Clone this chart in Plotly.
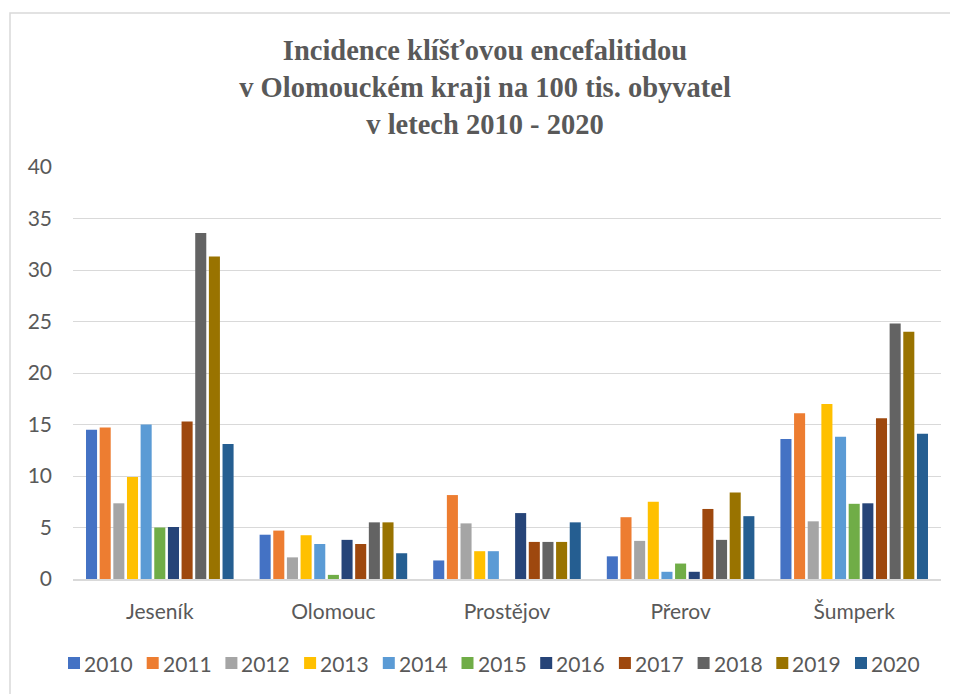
import plotly.graph_objects as go

categories = ["Jeseník", "Olomouc", "Prostějov", "Přerov", "Šumperk"]
years = ["2010", "2011", "2012", "2013", "2014", "2015", "2016", "2017", "2018", "2019", "2020"]

v2010 = [14.5, 4.3, 1.8, 2.2, 13.6]
v2011 = [14.7, 4.7, 8.15, 6.0, 16.1]
v2012 = [7.35, 2.1, 5.4, 3.7, 5.6]
v2013 = [9.9, 4.25, 2.7, 7.5, 17.0]
v2014 = [15.0, 3.4, 2.7, 0.7, 13.8]
v2015 = [5.0, 0.4, 0.0, 1.5, 7.3]
v2016 = [5.05, 3.8, 6.4, 0.7, 7.35]
v2017 = [15.3, 3.4, 3.6, 6.8, 15.6]
v2018 = [33.6, 5.5, 3.6, 3.8, 24.8]
v2019 = [31.3, 5.5, 3.6, 8.4, 24.0]
v2020 = [13.1, 2.5, 5.5, 6.1, 14.1]

series = [v2010, v2011, v2012, v2013, v2014, v2015, v2016, v2017, v2018, v2019, v2020]
colors = ["#4472C4", "#ED7D31", "#A5A5A5", "#FFC000", "#5B9BD5", "#70AD47",
          "#264478", "#9E480E", "#636363", "#997300", "#255E91"]

title_text = ("Incidence klíšťovou encefalitidou<br>"
              "v Olomouckém kraji na 100 tis. obyvatel<br>"
              "v letech 2010 - 2020")

W, H = 958, 694
OFF = 8  # page body offset
L, T = 73 - OFF, 167 - OFF
R = W - (941 - OFF)
B = H - (579 - OFF)

fig = go.Figure()
for yr, vals, col in zip(years, series, colors):
    fig.add_trace(go.Bar(name=yr, x=categories, y=vals, marker_color=col,
                         marker_line_width=0, showlegend=False))

ph = H - T - B
pw = W - L - R
y0px = H - B  # figure px of y=0


def px_x(sx):
    return (sx - OFF - L) / pw


def px_y(sy):
    return (y0px - (sy - OFF)) / ph


# legend (built as shapes + text annotations)
leg_x0, leg_pitch, leg_y, sq = 68, 78.7, 663, 12
shapes = [dict(type="rect", xref="paper", yref="paper",
               x0=px_x(10), x1=px_x(W + 20),
               y0=px_y(H + 20), y1=px_y(13),
               line=dict(color="#D9D9D9", width=1.5), layer="below")]
annotations = []
for i, (yr, col) in enumerate(zip(years, colors)):
    sx = leg_x0 + i * leg_pitch
    shapes.append(dict(type="rect", xref="paper", yref="paper",
                       x0=px_x(sx), x1=px_x(sx + sq),
                       y0=px_y(leg_y + sq / 2), y1=px_y(leg_y - sq / 2),
                       fillcolor=col, line=dict(width=0)))
    annotations.append(dict(text=yr, xref="paper", yref="paper",
                            x=px_x(sx + sq + 2), y=px_y(leg_y),
                            xanchor="left", yanchor="middle", showarrow=False,
                            font=dict(family="Lato", size=21, color="#595959")))

fig.update_layout(
    width=W, height=H,
    margin=dict(l=L, r=R, t=T, b=B),
    paper_bgcolor="white", plot_bgcolor="white",
    barmode="group", bargap=0.135, bargroupgap=0.19,
    showlegend=False,
    title=dict(text=title_text, x=(485 - OFF) / W, xanchor="center",
               xref="container", yref="container",
               y=1 - 52 / H, yanchor="middle",
               font=dict(family="Liberation Serif", size=28.5, color="#595959",
                         weight="bold")),
    font=dict(family="Lato", color="#595959", size=21),
    xaxis=dict(showgrid=False, showline=True, linecolor="#D9D9D9", linewidth=1.5,
               ticks="", ticklabelstandoff=13,
               tickfont=dict(size=21, color="#595959")),
    yaxis=dict(range=[0, 40], dtick=5, showgrid=True, gridcolor="#D9D9D9",
               gridwidth=1.3, zeroline=False, ticks="", ticklabelstandoff=20,
               tickfont=dict(size=21, color="#595959")),
    shapes=shapes,
    annotations=annotations,
)

fig.write_html("out.html", config={"displayModeBar": False})
